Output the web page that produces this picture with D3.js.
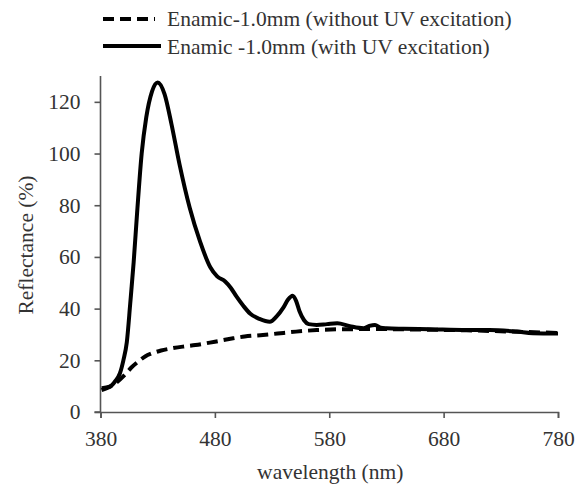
<!DOCTYPE html>
<html>
<head>
<meta charset="utf-8">
<script src="https://cdn.jsdelivr.net/npm/d3@7"></script>
<style>
  body { margin: 0; background: #fff; }
  text { font-family: "Liberation Serif", "Times New Roman", serif; fill: #333; }
</style>
</head>
<body>
<script>
// wavelength (nm) and reflectance (%)
var withUvX = [381, 388, 393, 397, 400, 403, 406, 409, 412, 416, 420, 425, 430, 436, 442, 449, 458, 467, 476, 482, 489, 494, 499, 505, 511, 519, 528, 534, 540, 544, 548, 551, 554, 558, 562, 569, 578, 587, 598, 610, 615, 620, 625, 630, 645, 668, 700, 720, 744, 758, 780];
var withUvY = [9.2, 9.8, 12, 15, 20, 27, 42, 58, 77, 100, 114, 124, 127.5, 123, 111.5, 96, 79, 66, 56, 52.5, 50.5, 48, 44.6, 41, 38, 36, 34.9, 37, 40.5, 43.5, 45, 43, 39, 35.5, 34, 33.7, 34, 34.3, 33.2, 32.4, 33.3, 33.7, 32.6, 32.4, 32.2, 32, 31.7, 31.7, 31.1, 30.5, 30.4];
var noUvX = [381, 387, 393, 401, 407, 413, 419, 425, 433, 442, 452, 463, 480, 496, 506, 522, 540, 551, 569, 590, 620, 660, 700, 740, 780];
var noUvY = [8.5, 9.5, 11.1, 14.3, 17.2, 19.5, 21.5, 22.7, 23.8, 24.6, 25.3, 25.9, 27.2, 28.5, 29.2, 29.8, 30.6, 31.1, 31.7, 32, 32.1, 31.9, 31.6, 31.1, 30.6];
var xTicks = [380, 480, 580, 680, 780];
var yTicks = [0, 20, 40, 60, 80, 100, 120];
var legendLabels = ["Enamic-1.0mm (without UV excitation)", "Enamic -1.0mm (with UV excitation)"];

var w = 578, h = 488;
var svg = d3.select("body").append("svg").attr("width", w).attr("height", h);

var x = d3.scaleLinear().domain([380, 780]).range([100.5, 558]);
var y = d3.scaleLinear().domain([0, 130]).range([412, 76]);

var line = d3.line()
  .x(function(d) { return x(d[0]); })
  .y(function(d) { return y(d[1]); })
  .curve(d3.curveMonotoneX);

var noUv = noUvX.map(function(v, i) { return [v, noUvY[i]]; });
var withUv = withUvX.map(function(v, i) { return [v, withUvY[i]]; });

// axes
var xAxis = svg.append("g")
  .attr("transform", "translate(0," + y(0) + ")")
  .call(d3.axisBottom(x).tickValues(xTicks).tickSize(6).tickPadding(13));
var yAxis = svg.append("g")
  .attr("transform", "translate(" + x(380) + ",0)")
  .call(d3.axisLeft(y).tickValues(yTicks).tickSize(6).tickPadding(14));

[xAxis, yAxis].forEach(function(a) {
  a.select(".domain").attr("stroke", "#555").attr("stroke-width", 1.6);
  a.selectAll(".tick line").attr("stroke", "#555").attr("stroke-width", 1.6);
  a.selectAll(".tick text").attr("font-size", 21.5).attr("fill", "#333")
    .attr("font-family", "Liberation Serif");
});
// extend y axis to top
yAxis.select(".domain").attr("d", "M-6," + y(0) + "H0V" + y(130));

// curves
svg.append("path").datum(noUv).attr("d", line)
  .attr("fill", "none").attr("stroke", "#000").attr("stroke-width", 4)
  .attr("stroke-dasharray", "11,6");
svg.append("path").datum(withUv).attr("d", line)
  .attr("fill", "none").attr("stroke", "#000").attr("stroke-width", 4)
  .attr("stroke-linejoin", "round");

// axis titles
svg.append("text")
  .attr("x", (x(380) + x(780)) / 2 + 1)
  .attr("y", 479)
  .attr("text-anchor", "middle")
  .attr("font-size", 21.5)
  .text("wavelength (nm)");

svg.append("text")
  .attr("transform", "translate(33," + 245 + ") rotate(-90)")
  .attr("text-anchor", "middle")
  .attr("font-size", 21.5)
  .text("Reflectance (%)");

// legend
var legend = svg.append("g");
legend.append("line")
  .attr("x1", 103).attr("x2", 155).attr("y1", 19).attr("y2", 19)
  .attr("stroke", "#000").attr("stroke-width", 4).attr("stroke-dasharray", "11,6");
legend.append("line")
  .attr("x1", 103).attr("x2", 161).attr("y1", 46).attr("y2", 46)
  .attr("stroke", "#000").attr("stroke-width", 4);
legendLabels.forEach(function(t, i) {
  legend.append("text")
    .attr("x", 167)
    .attr("y", 26 + i * 28)
    .attr("font-size", 21.5)
    .text(t);
});
</script>
</body>
</html>
